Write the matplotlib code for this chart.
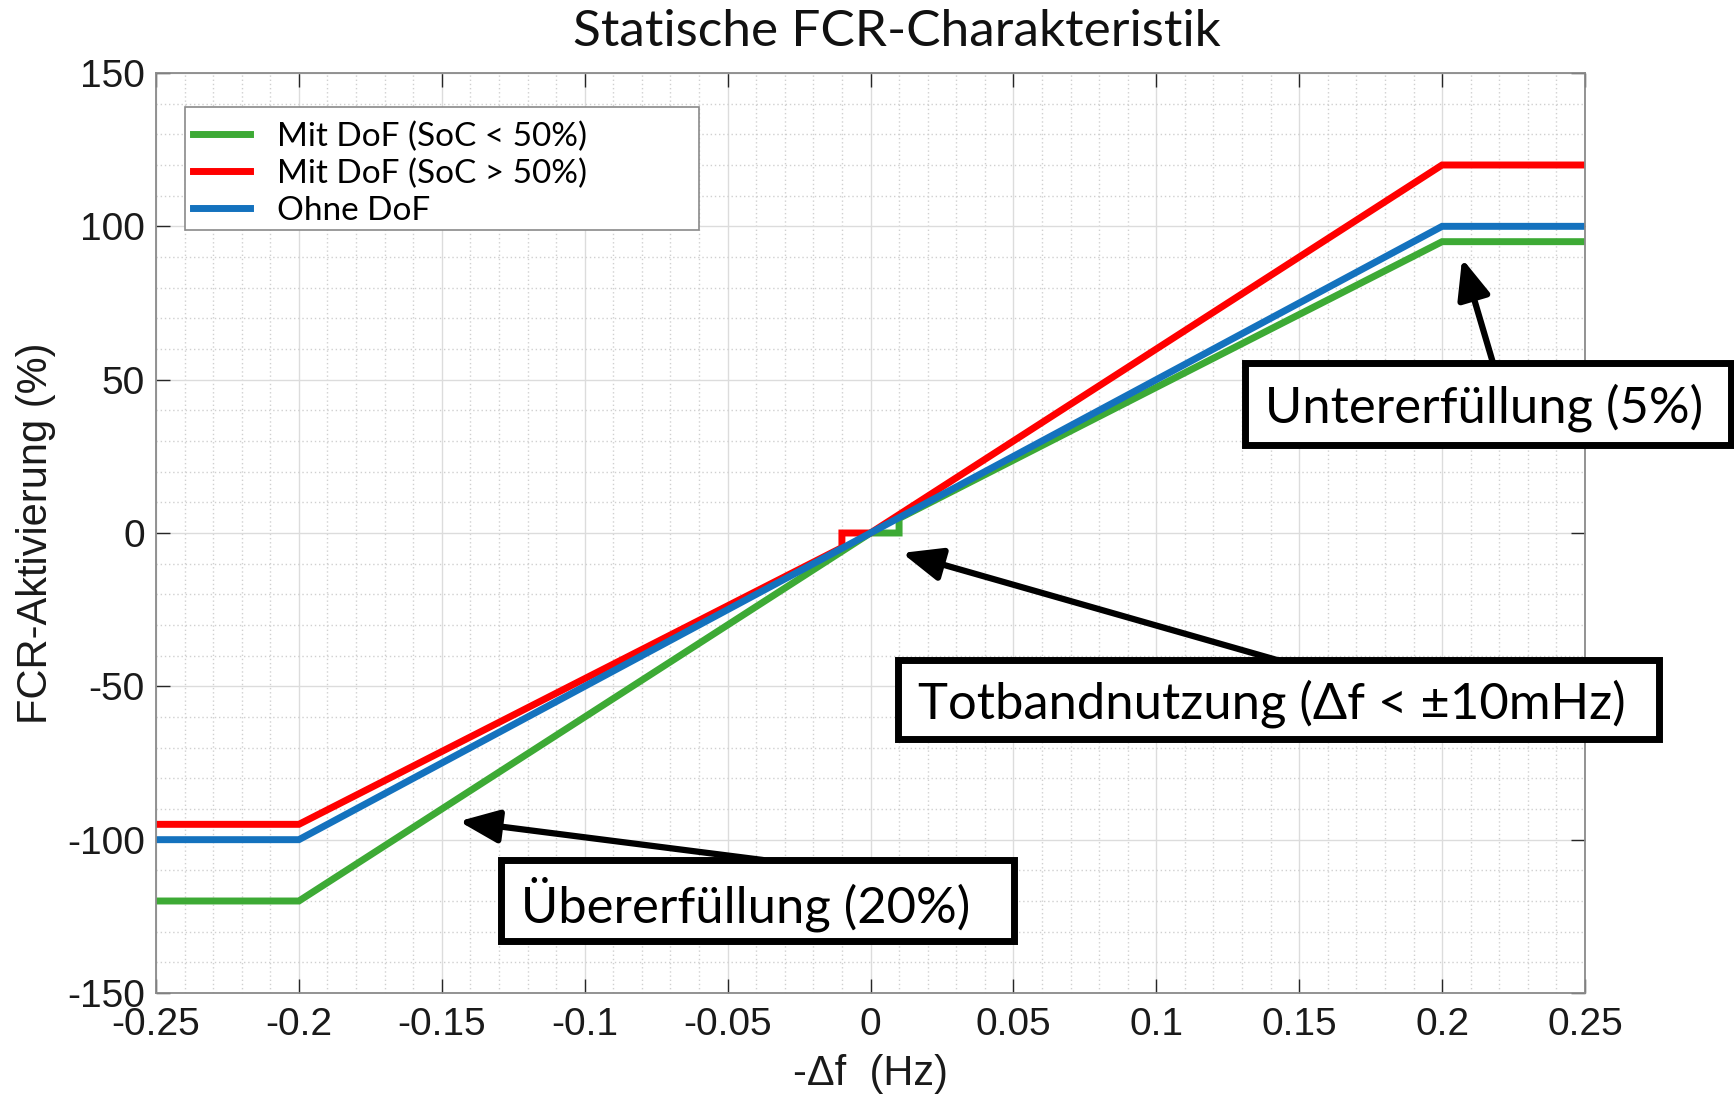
import matplotlib
matplotlib.use("Agg")
import matplotlib.pyplot as plt
from matplotlib.patches import Rectangle

plt.rcParams["axes.unicode_minus"] = False

# Daten: statische FCR-Kennlinien
green_x = [-0.25, -0.2, 0.0, 0.01, 0.01, 0.2, 0.25]
green_y = [-120, -120, 0, 0, 4.75, 95, 95]
red_x = [-0.25, -0.2, -0.01, -0.01, 0.0, 0.2, 0.25]
red_y = [-95, -95, -4.75, 0, 0, 120, 120]
blue_x = [-0.25, -0.2, 0.2, 0.25]
blue_y = [-100, -100, 100, 100]

labels = ["Mit DoF (SoC < 50%)", "Mit DoF (SoC > 50%)", "Ohne DoF"]
xticks = [-0.25, -0.2, -0.15, -0.1, -0.05, 0, 0.05, 0.1, 0.15, 0.2, 0.25]
xticklabels = ["-0.25", "-0.2", "-0.15", "-0.1", "-0.05", "0", "0.05", "0.1", "0.15", "0.2", "0.25"]
yticks = [-150, -100, -50, 0, 50, 100, 150]

GREEN = "#3DAA35"
RED = "#FF0000"
BLUE = "#1472BE"
GOTHIC = "Lato"
ARIAL = "Liberation Sans"

W, H = 1734, 1096
fig = plt.figure(figsize=(W / 100, H / 100), dpi=100)


def fx(px):
    return px / W


def fy(py):
    return 1 - py / H


ax = fig.add_axes([fx(156), fy(993), fx(1585) - fx(156), fy(73) - fy(993)])

ax.plot(green_x, green_y, color=GREEN, lw=5, label=labels[0], solid_joinstyle="miter")
ax.plot(red_x, red_y, color=RED, lw=5, label=labels[1], solid_joinstyle="miter")
ax.plot(blue_x, blue_y, color=BLUE, lw=5, label=labels[2], solid_joinstyle="miter")

ax.set_xlim(-0.25, 0.25)
ax.set_ylim(-150, 150)
ax.set_xticks(xticks)
ax.set_xticklabels(xticklabels)
ax.set_yticks(yticks)
ax.set_xticks([x / 100 for x in range(-25, 26)], minor=True)
ax.set_yticks(list(range(-150, 151, 10)), minor=True)

ax.grid(which="major", color="#dcdcdc", lw=1.0, ls="-")
ax.grid(which="minor", color="#d0d0d0", lw=1.0, ls=(0, (1, 2)))
ax.set_axisbelow(True)

for s in ax.spines.values():
    s.set_color("#8a8a8a")
    s.set_linewidth(1.3)
ax.tick_params(which="major", direction="in", length=10, width=1.0, color="#262626",
               top=True, right=True, labelsize=28, labelcolor="#1a1a1a")
ax.tick_params(which="minor", length=0)
ax.tick_params(axis="x", pad=10)
ax.tick_params(axis="y", pad=8)
for t in ax.get_xticklabels() + ax.get_yticklabels():
    t.set_fontfamily(ARIAL)

ax.set_xlabel("-Δf  (Hz)", fontsize=30, family=ARIAL, color="#1a1a1a")
ax.set_ylabel("FCR-Aktivierung (%)", fontsize=30, family=ARIAL, color="#1a1a1a")
ax.xaxis.set_label_coords(0.5, -0.066)
ax.yaxis.set_label_coords(-0.07, 0.5)

fig.text(fx(897), fy(46), "Statische FCR-Charakteristik", fontsize=37, family=GOTHIC,
         ha="center", va="baseline", color="#111111")

# Legende ohne eigenen Rahmen, Rahmen separat (breiter wie im Original)
ax.add_patch(Rectangle((0.0203, 0.8293), 0.3597, 0.1337, transform=ax.transAxes,
                       facecolor="white", edgecolor="#8a8a8a", lw=1.2, zorder=4.9,
                       clip_on=False))
leg = ax.legend(loc="upper left", bbox_to_anchor=(0.0203, 0.9565), borderaxespad=0,
                frameon=False, prop={"family": GOTHIC, "size": 24}, handlelength=1.7,
                handletextpad=0.8, labelspacing=0.2, borderpad=0.25)
leg.set_zorder(5)
for ln in leg.get_lines():
    ln.set_linewidth(5)

# Annotationen: Rahmen (Pixel), Text, Pfeil (Spitze in Datenkoordinaten)
notes = [
    ("Untererfüllung (5%)", (1245, 363, 1731, 445), (0.207, 89.5), (1493, 363)),
    ("Totbandnutzung (Δf < ±10mHz)", (898, 660, 1659, 739), (0.011, -6.5), (1277, 660)),
    ("Übererfüllung (20%)", (501, 860, 1014, 941), (-0.144, -94), (763, 860)),
]
for text, (x0, y0, x1, y1), tip, tail in notes:
    fig.patches.append(Rectangle((fx(x0), fy(y1)), fx(x1) - fx(x0), fy(y0) - fy(y1),
                                 transform=fig.transFigure, facecolor="white",
                                 edgecolor="black", lw=5, zorder=5))
    fig.text(fx(x0 + 20), fy((y0 + y1) / 2 + 4), text, fontsize=36.5, family=GOTHIC,
             ha="left", va="center", color="black", zorder=6)
    ax.annotate("", xy=tip, xycoords="data", xytext=(fx(tail[0]), fy(tail[1])),
                textcoords="figure fraction",
                arrowprops=dict(arrowstyle="-|>,head_length=1.2,head_width=0.5",
                                mutation_scale=20, lw=4.5, color="black",
                                shrinkA=0, shrinkB=0),
                annotation_clip=False, zorder=4)

fig.savefig("out.png", dpi=100, facecolor="white")
